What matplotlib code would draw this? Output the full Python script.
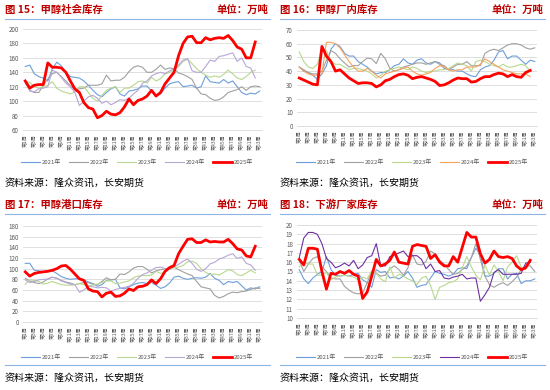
import numpy as np
import matplotlib
matplotlib.use("Agg")
import matplotlib.pyplot as plt

plt.rcParams['font.family'] = ['Noto Sans CJK SC', 'DejaVu Sans']

weeks = list(range(1, 54))
week_labels = [f"第{w}周" for w in weeks]
years = ["2021年", "2022年", "2023年", "2024年", "2025年"]

# 图15 甲醇社会库存
social_2021 = [148, 150, 138, 134, 132, 128, 145, 154, 149, 140, 134, 133, 132, 128, 122, 115, 109, 106,
               112, 117, 120, 110, 107, 114, 115, 117, 121, 121, 114, 108, 110, 118, 124, 126, 127, 120,
               121, 122, 118, 120, 135, 127, 126, 125, 130, 125, 128, 120, 112, 109, 111, 110, 114]
social_2022 = [125, 115, 112, 112, 122, 131, 138, 140, 134, 128, 121, 116, 117, 118, 122, 122, 122, 124,
               136, 128, 129, 129, 133, 141, 147, 149, 147, 140, 140, 144, 150, 144, 146, 145, 139, 137,
               134, 130, 118, 110, 109, 104, 101, 102, 106, 112, 114, 116, 120, 115, 120, 121, 120]
social_2023 = [127, 126, 120, 118, 120, 122, 127, 118, 114, 112, 110, 113, 120, 120, 112, 104, 100, 108,
               115, 118, 120, 112, 118, 118, 122, 127, 128, 125, 133, 128, 131, 138, 140, 143, 148, 155,
               158, 152, 145, 140, 136, 133, 135, 133, 137, 143, 138, 132, 130, 134, 140, 143]
social_2024 = [128, 114, 113, 117, 118, 120, 143, 140, 133, 125, 120, 112, 94, 100, 106, 108, 104, 97,
               100, 95, 98, 102, 101, 104, 110, 115, 125, 128, 135, 138, 140, 138, 142, 145, 150, 157,
               159, 142, 140, 140, 148, 157, 155, 162, 163, 165, 167, 155, 160, 148, 146, 132]
social_2025 = [128, 118, 122, 123, 123, 153, 147, 147, 146, 140, 128, 117, 112, 98, 91, 89, 77, 80,
               86, 82, 81, 84, 92, 103, 95, 101, 103, 107, 115, 107, 112, 124, 132, 140, 163, 180,
               189, 190, 181, 181, 188, 185, 187, 188, 187, 191, 184, 175, 172, 160, 160, 182]

# 图16 甲醇厂内库存
plant_2021 = [43, 40, 39, 37, 34, 38, 44, 56, 60, 58, 53, 51, 51, 47, 45, 43, 40, 38, 39, 39, 41, 44,
              45, 49, 46, 45, 48, 49, 46, 45, 47, 46, 42, 41, 41, 40, 40, 38, 36.5, 36, 41, 43, 44, 48,
              54, 55, 49, 51, 51, 48, 45, 48, 47]
plant_2022 = [43, 41, 39, 38, 38, 40, 48, 55, 53, 49, 46, 43, 44, 44, 47, 49.5, 49, 45.5, 53, 49, 42,
              40, 41, 43, 44, 45, 46, 46, 45, 46, 47, 45, 44, 41, 43, 45, 45, 47, 44, 44, 44, 53, 55,
              56, 55, 57, 59, 60, 60, 59, 57, 56, 57]
plant_2023 = [54, 47, 43, 42, 45, 56, 55, 47, 45, 45, 43, 41, 42, 42, 41, 40, 38, 35, 37, 40, 41, 42,
              43, 42, 41, 43, 42, 40, 39, 40, 40, 41, 41, 42, 44, 46, 45, 44, 40, 47, 48, 47, 45, 44,
              43, 45, 43, 43, 44, 45, 44, 40]
plant_2024 = [43, 40, 38, 37, 37, 38, 61, 61, 60, 57, 52, 47, 43, 40, 40, 42, 40, 37, 35, 38, 39, 40,
              41, 42, 43, 40, 38, 37, 38, 39, 42, 44, 43, 41, 40, 41, 41, 43, 43, 43, 45, 49, 47, 45,
              43, 41, 40, 39, 38, 38, 38, 36]
plant_2025 = [35, 33.5, 32, 30.5, 30, 58, 51, 47, 40, 41, 38, 35, 33, 31, 31.5, 31.5, 31, 28.5, 30, 33,
              34, 36, 37.5, 38, 37, 34.5, 35.5, 36, 35, 34, 32.5, 29.5, 30, 31.5, 33.5, 35, 34.5, 34.5,
              32, 32.5, 34.5, 36, 36, 37.5, 38.5, 38, 36, 37.5, 36, 35.5, 39, 40.5]

# 图17 甲醇港口库存
port_2021 = [110, 110, 97, 96, 94, 96, 96, 91, 85, 82, 80, 81, 81, 79, 75, 72, 67, 70, 78, 79, 80, 64,
             62, 66, 70, 73, 74, 72, 74, 69, 63, 66, 73, 84, 86, 82, 80, 82, 83, 82, 84, 91, 82, 78,
             70, 76, 74, 76, 68, 60, 64, 62, 66]
port_2022 = [82, 77, 74, 72, 75, 81, 84, 82, 78, 75, 73, 70, 72, 74, 74, 71, 70, 76, 83, 79, 80, 90,
             89, 94, 101, 104, 104, 99, 92, 96, 98, 100, 100, 103, 98, 94, 90, 87, 76, 66, 64, 62, 50,
             45, 48, 53, 56, 55, 57, 58, 61, 64, 63]
port_2023 = [71, 79, 78, 76, 71, 73, 76, 73, 70, 69, 69, 70, 72, 70, 68, 69, 71, 74, 77, 77, 72, 73,
             75, 77, 83, 86, 87, 87, 88, 95, 91, 94, 99, 102, 103, 106, 113, 114, 110, 100, 93, 89,
             90, 88, 93, 98, 96, 89, 87, 92, 97, 92]
port_2024 = [79, 74, 76, 79, 80, 80, 84, 82, 77, 74, 71, 70, 56, 60, 67, 66, 64, 65, 64, 58, 61, 63,
             65, 67, 72, 82, 89, 92, 97, 102, 103, 100, 99, 104, 108, 114, 118, 110, 99, 95, 100, 109,
             112, 118, 121, 125, 128, 119, 122, 110, 107, 97]
port_2025 = [94, 86, 91, 93, 94, 95, 97, 100, 105, 106, 99, 90, 81, 78, 62, 58, 57, 47, 54, 56, 48, 49,
             54, 62, 59, 66, 67, 70, 79, 72, 81, 95, 102, 106, 128, 142, 155, 156, 149, 149, 154, 150,
             151, 150, 150, 155, 147, 137, 135, 124, 122, 142]

# 图18 下游厂家库存
down_2021 = [15.2, 14.2, 13.7, 14.3, 14.7, 15.0, 16.6, 15.2, 14.6, 14.5, 14.6, 14.5, 14.7, 14.8, 14.1,
             13.8, 13.3, 15.2, 14.9, 15.0, 14.3, 14.4, 14.2, 14.5, 15.0, 14.3, 13.3, 13.5, 13.6, 14.3,
             15.0, 14.8, 14.7, 14.5, 14.7, 15.3, 15.4, 15.3, 16.5, 17.5, 16.8, 14.5, 14.5, 14.8, 15.3,
             15.3, 14.2, 14.7, 14.8, 13.7, 14.0, 14.0, 14.2]
down_2022 = [16.2, 15.0, 15.8, 16.4, 16.6, 15.5, 15.0, 14.3, 14.2, 14.2, 13.4, 13.0, 12.7, 12.6, 12.7,
             13.8, 15.0, 14.8, 14.5, 14.6, 15.3, 15.6, 15.2, 14.6, 15.4, 16.8, 15.8, 15.7, 16.1, 17.2,
             16.9, 16.2, 15.8, 15.2, 14.7, 14.8, 15.2, 15.6, 16.5, 18.0, 16.3, 14.5, 13.6, 13.3, 13.6,
             13.8, 13.5, 13.9, 14.4, 15.2, 15.6, 15.6, 15.0]
down_2023 = [15.5, 16.0, 15.8, 15.8, 14.6, 14.6, 14.9, 14.1, 14.4, 14.5, 14.6, 14.5, 14.4, 14.1, 14.4,
             14.2, 15.1, 14.8, 14.2, 13.9, 15.5, 14.3, 14.7, 14.5, 14.2, 14.0, 13.6, 14.3, 14.5, 13.5,
             12.0, 13.3, 13.5, 13.8, 13.9, 14.2, 15.4, 16.6, 15.5, 14.6, 14.1, 15.7, 14.6, 15.7, 15.0,
             14.0, 15.5, 16.0, 16.7, 15.5, 15.2]
down_2024 = [16.5, 18.6, 19.2, 19.2, 19.0, 18.0, 16.4, 16.0, 15.4, 15.6, 15.9, 15.6, 16.2, 15.3, 15.7,
             16.5, 16.7, 18.0, 15.6, 15.6, 16.6, 16.8, 17.0, 17.2, 16.6, 16.7, 16.7, 16.3, 15.3, 15.8,
             15.0, 15.1, 14.3, 14.2, 14.4, 14.5, 14.7, 14.2, 14.3, 14.3, 11.8, 12.5, 13.3, 14.9, 15.2,
             14.7, 14.7, 14.7, 14.7, 14.8, 15.9, 16.0]
down_2025 = [16.3, 15.7, 17.5, 17.5, 17.4, 15.0, 13.1, 14.8, 14.7, 15.0, 14.8, 15.1, 14.7, 14.5, 12.1,
             12.8, 14.5, 16.3, 15.6, 15.8, 16.2, 17.1, 16.0, 15.9, 15.8, 17.7, 17.9, 17.8, 17.7, 16.4,
             16.8, 16.0, 15.6, 15.6, 16.6, 16.0, 17.6, 19.2, 18.7, 18.7, 16.9, 15.9, 16.3, 17.2, 16.6,
             16.5, 16.6, 16.4, 15.6, 15.2, 15.4, 16.2]

W, H = 550, 390
fig = plt.figure(figsize=(W / 100, H / 100), dpi=100)

TITLE_RED = '#c00000'
TEXT_GRAY = '#595959'
GRID = '#d9d9d9'
BLUE_RULE = '#8eb4e3'


def add_ax(l, t, r, b):
    return fig.add_axes([l / W, 1 - b / H, (r - l) / W, (b - t) / H])


def fig_text(x, y, s, **kw):
    fig.text(x / W, 1 - y / H, s, **kw)


def draw_panel(ox, oy, title, series, colors, ylim, yticks, box, source_rule):
    # 标题和单位
    fig_text(ox + 5, oy + 10, title, color=TITLE_RED, fontsize=7.5, fontweight='bold', va='center')
    fig_text(ox + 268, oy + 10, "单位：万吨", color=TITLE_RED, fontsize=7.5, fontweight='bold',
             va='center', ha='right')
    fig.add_artist(plt.Line2D([(ox + 5) / W, (ox + 270) / W], [1 - (oy + 19) / H] * 2,
                              color=BLUE_RULE, lw=0.8))
    if source_rule:
        fig.add_artist(plt.Line2D([(ox + 5) / W, (ox + 270) / W], [1 - (oy + 170) / H] * 2,
                                  color=BLUE_RULE, lw=0.8))
    fig_text(ox + 5, oy + 183, "资料来源：隆众资讯，长安期货", color='black', fontsize=7.2, va='center')

    l, t, r, b = box
    ax = add_ax(ox + l, oy + t, ox + r, oy + b)
    for vals, c, name in zip(series, colors, years):
        lw = 2.0 if name == "2025年" else 0.8
        ax.plot(weeks[:len(vals)], vals, color=c, lw=lw, label=name,
                zorder=3 if name == "2025年" else 2)
    ax.set_xlim(0.5, 53.5)
    ax.set_ylim(*ylim)
    ax.set_yticks(yticks)
    ax.set_yticklabels([str(v) for v in yticks], fontsize=4.5, color=TEXT_GRAY)
    ax.set_xticks(weeks[::2])
    ax.set_xticklabels(week_labels[::2], rotation=90, fontsize=3.6, color=TEXT_GRAY)
    ax.tick_params(length=0, pad=3)
    ax.grid(axis='y', color=GRID, lw=0.6)
    ax.set_axisbelow(True)
    for s in ['left', 'right', 'top']:
        ax.spines[s].set_visible(False)
    ax.spines['bottom'].set_color(GRID)
    ax.spines['bottom'].set_linewidth(0.6)
    ax.legend(loc='center', bbox_to_anchor=((ox + 137) / W, 1 - (oy + 162) / H),
              bbox_transform=fig.transFigure, ncol=5, frameon=False, fontsize=4.3,
              handlelength=3.2, columnspacing=1.2, handletextpad=0.4, labelcolor=TEXT_GRAY)
    return ax


c21, c22, c23, c25 = '#6d9eda', '#a0a0a0', '#b8d88e', '#ff0000'

draw_panel(0, 0, "图 15：甲醇社会库存",
           [social_2021, social_2022, social_2023, social_2024, social_2025],
           [c21, c22, c23, '#b7a6d6', c25], (60, 200), list(range(60, 201, 20)),
           (23, 29, 262, 130), False)
draw_panel(275, 0, "图 16：甲醇厂内库存",
           [plant_2021, plant_2022, plant_2023, plant_2024, plant_2025],
           [c21, c22, c23, '#f5a25d', c25], (0, 70), list(range(0, 71, 10)),
           (22, 30, 262, 126), False)
draw_panel(0, 195, "图 17：甲醇港口库存",
           [port_2021, port_2022, port_2023, port_2024, port_2025],
           [c21, c22, c23, '#b7a6d6', c25], (0, 180), list(range(0, 181, 20)),
           (23, 31, 262, 127), True)
draw_panel(275, 195, "图 18：下游厂家库存",
           [down_2021, down_2022, down_2023, down_2024, down_2025],
           [c21, c22, c23, '#7030a0', c25], (10, 20), list(range(10, 21, 1)),
           (22, 30, 262, 123), True)

fig.savefig("out.png", dpi=100)
